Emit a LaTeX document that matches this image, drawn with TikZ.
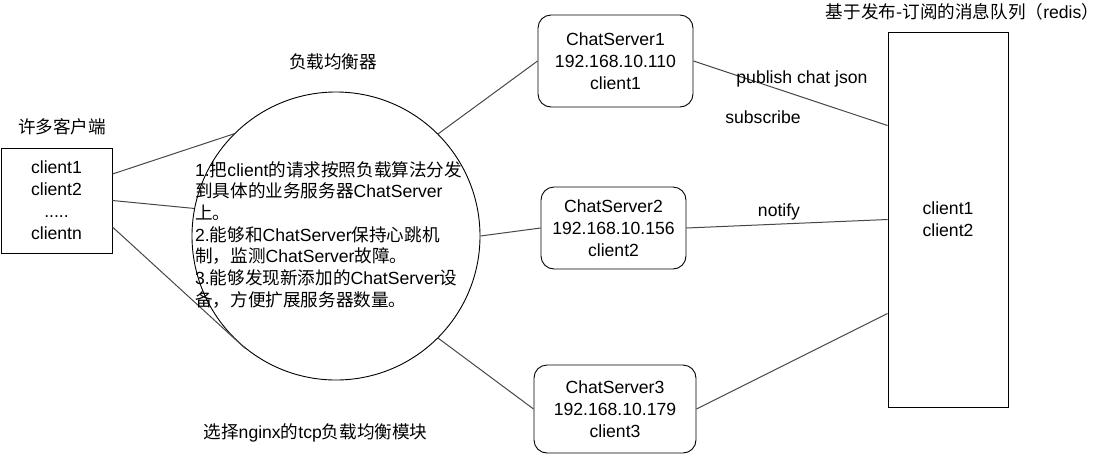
\documentclass[tikz,border=0pt]{standalone}
\usepackage{fontspec}
\setmainfont{Liberation Sans}
\newfontfamily\zhfont{Noto Sans CJK SC}
\newcommand\zh[1]{{\zhfont #1}}
\usetikzlibrary{calc}
\tikzset{
  txt/.style={font={\fontsize{17.6}{22}\selectfont}, inner sep=0pt, align=center},
  plainbox/.style={draw=black, line width=0.9pt, fill=white, txt},
  srvbox/.style={draw=black, line width=0.9pt, fill=white, rounded corners=13pt, txt, minimum width=155pt, minimum height=92pt},
  conn/.style={draw=black!72, line width=1pt},
}
\begin{document}
\begin{tikzpicture}[x=1pt, y=-1pt]
\useasboundingbox (0,0) rectangle (1111,456);

% load balancer circle
\node[circle, draw=black, line width=0.9pt, minimum size=288pt, inner sep=0pt] (lb) at (336,236) {};

% clients
\node[plainbox, minimum width=111pt, minimum height=105pt] (cl) at (56.5,200.5)
  {client1\\client2\\.....\\clientn};
\node[txt] (clt) at (62,127) {\zh{许多客户端}};

% servers
\node[srvbox] (s1) at (615.5,61) {ChatServer1\\192.168.10.110\\client1};
\node[srvbox, minimum width=145pt, minimum height=82pt] (s2) at (613.5,228) {ChatServer2\\192.168.10.156\\client2};
\node[srvbox, minimum width=162pt, minimum height=88pt] (s3) at (615,409) {ChatServer3\\192.168.10.179\\client3};

% redis
\node[plainbox, minimum width=120pt, minimum height=375pt] (rd) at (948,219.5) {client1\\client2};
\node[txt] (rdt) at (962.5,12) {\zh{基于发布-订阅的消息队列（}redis\zh{）}};

% titles
\node[txt] (lbt) at (333,62) {\zh{负载均衡器}};
\node[txt] (ngx) at (315.5,433) {\zh{选择}nginx\zh{的}tcp\zh{负载均衡模块}};

% connectors clients -> lb
\draw[conn] ($(cl.north east)!0.25!(cl.south east)$) -- (lb.135);
\draw[conn] (cl.east) -- (lb.169);
\draw[conn] ($(cl.north east)!0.75!(cl.south east)$) -- (lb.231);

% lb -> servers
\draw[conn] (lb.45) -- (s1.west);
\draw[conn] (lb.east) -- (s2.west);
\draw[conn] (lb.315) -- (s3.west);

% servers -> redis
\draw[conn] (s1.east) -- ($(rd.north west)!0.25!(rd.south west)$);
\draw[conn] (s2.east) -- (rd.west);
\draw[conn] (s3.east) -- ($(rd.north west)!0.75!(rd.south west)$);

% circle text
\node[txt, align=left, anchor=north west, font={\fontsize{17.6}{21.7}\selectfont}] (lbx) at (195,161)
  {1.\zh{把}client\zh{的请求按照负载算法分发}\\
   \zh{到具体的业务服务器}ChatServer\\
   \zh{上。}\\
   2.\zh{能够和}ChatServer\zh{保持心跳机}\\
   \zh{制，监测}ChatServer\zh{故障。}\\
   3.\zh{能够发现新添加的}ChatServer\zh{设}\\
   \zh{备，方便扩展服务器数量。}};

% edge labels
\node[txt] (pub) at (802,79) {publish chat json};
\node[txt] (sub) at (763,117) {subscribe};
\node[txt] (ntf) at (779,212) {notify};
\end{tikzpicture}
\end{document}
